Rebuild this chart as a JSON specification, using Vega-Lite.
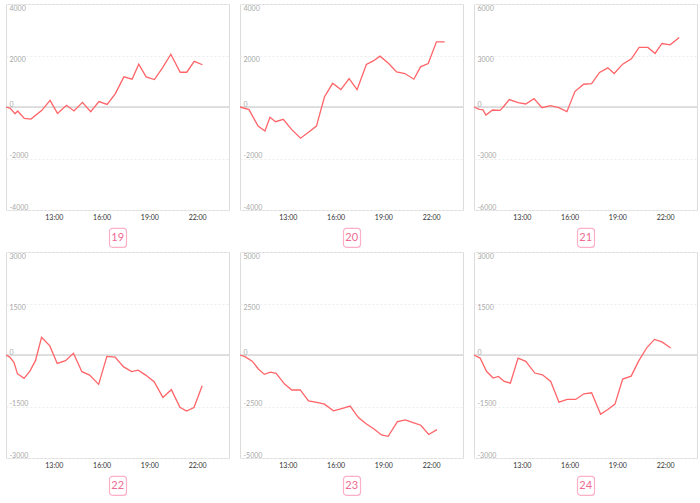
{
  "$schema": "https://vega.github.io/schema/vega-lite/v6.json",
  "padding": {"top": 3, "left": 2, "right": 0, "bottom": 0},
  "background": "white",
  "datasets": {
    "d": [
      {"p":19,"t":"2024-01-01T10:00","v":0},{"p":19,"t":"2024-01-01T10:16","v":-50},{"p":19,"t":"2024-01-01T10:34","v":-260},{"p":19,"t":"2024-01-01T10:44","v":-155},{"p":19,"t":"2024-01-01T11:09","v":-440},{"p":19,"t":"2024-01-01T11:34","v":-470},{"p":19,"t":"2024-01-01T12:15","v":-130},{"p":19,"t":"2024-01-01T12:46","v":260},{"p":19,"t":"2024-01-01T13:14","v":-250},{"p":19,"t":"2024-01-01T13:48","v":65},{"p":19,"t":"2024-01-01T14:16","v":-155},{"p":19,"t":"2024-01-01T14:48","v":180},{"p":19,"t":"2024-01-01T15:19","v":-180},{"p":19,"t":"2024-01-01T15:50","v":210},{"p":19,"t":"2024-01-01T16:21","v":100},{"p":19,"t":"2024-01-01T16:52","v":520},{"p":19,"t":"2024-01-01T17:24","v":1170},{"p":19,"t":"2024-01-01T17:55","v":1080},{"p":19,"t":"2024-01-01T18:20","v":1660},{"p":19,"t":"2024-01-01T18:48","v":1170},{"p":19,"t":"2024-01-01T19:19","v":1065},{"p":19,"t":"2024-01-01T19:50","v":1530},{"p":19,"t":"2024-01-01T20:21","v":2050},{"p":19,"t":"2024-01-01T20:56","v":1350},{"p":19,"t":"2024-01-01T21:21","v":1350},{"p":19,"t":"2024-01-01T21:49","v":1770},{"p":19,"t":"2024-01-01T22:20","v":1640},
      {"p":20,"t":"2024-01-01T10:00","v":0},{"p":20,"t":"2024-01-01T10:34","v":-100},{"p":20,"t":"2024-01-01T11:08","v":-740},{"p":20,"t":"2024-01-01T11:34","v":-935},{"p":20,"t":"2024-01-01T11:53","v":-400},{"p":20,"t":"2024-01-01T12:14","v":-570},{"p":20,"t":"2024-01-01T12:43","v":-480},{"p":20,"t":"2024-01-01T13:14","v":-870},{"p":20,"t":"2024-01-01T13:48","v":-1210},{"p":20,"t":"2024-01-01T14:19","v":-975},{"p":20,"t":"2024-01-01T14:48","v":-740},{"p":20,"t":"2024-01-01T15:18","v":390},{"p":20,"t":"2024-01-01T15:49","v":920},{"p":20,"t":"2024-01-01T16:20","v":675},{"p":20,"t":"2024-01-01T16:51","v":1100},{"p":20,"t":"2024-01-01T17:21","v":675},{"p":20,"t":"2024-01-01T17:56","v":1650},{"p":20,"t":"2024-01-01T18:22","v":1790},{"p":20,"t":"2024-01-01T18:47","v":1975},{"p":20,"t":"2024-01-01T19:19","v":1700},{"p":20,"t":"2024-01-01T19:50","v":1365},{"p":20,"t":"2024-01-01T20:21","v":1300},{"p":20,"t":"2024-01-01T20:55","v":1080},{"p":20,"t":"2024-01-01T21:20","v":1560},{"p":20,"t":"2024-01-01T21:49","v":1690},{"p":20,"t":"2024-01-01T22:20","v":2530},{"p":20,"t":"2024-01-01T22:51","v":2530},
      {"p":21,"t":"2024-01-01T10:00","v":0},{"p":21,"t":"2024-01-01T10:20","v":-135},{"p":21,"t":"2024-01-01T10:33","v":-155},{"p":21,"t":"2024-01-01T10:45","v":-470},{"p":21,"t":"2024-01-01T11:10","v":-175},{"p":21,"t":"2024-01-01T11:38","v":-195},{"p":21,"t":"2024-01-01T11:50","v":0},{"p":21,"t":"2024-01-01T12:13","v":430},{"p":21,"t":"2024-01-01T12:46","v":250},{"p":21,"t":"2024-01-01T13:15","v":175},{"p":21,"t":"2024-01-01T13:46","v":490},{"p":21,"t":"2024-01-01T14:16","v":-40},{"p":21,"t":"2024-01-01T14:48","v":80},{"p":21,"t":"2024-01-01T15:19","v":-40},{"p":21,"t":"2024-01-01T15:50","v":-270},{"p":21,"t":"2024-01-01T16:20","v":900},{"p":21,"t":"2024-01-01T16:53","v":1325},{"p":21,"t":"2024-01-01T17:23","v":1365},{"p":21,"t":"2024-01-01T17:53","v":2010},{"p":21,"t":"2024-01-01T18:24","v":2280},{"p":21,"t":"2024-01-01T18:48","v":1950},{"p":21,"t":"2024-01-01T19:20","v":2495},{"p":21,"t":"2024-01-01T19:53","v":2810},{"p":21,"t":"2024-01-01T20:22","v":3470},{"p":21,"t":"2024-01-01T20:55","v":3470},{"p":21,"t":"2024-01-01T21:22","v":3120},{"p":21,"t":"2024-01-01T21:48","v":3700},{"p":21,"t":"2024-01-01T22:19","v":3625},{"p":21,"t":"2024-01-01T22:53","v":4055},
      {"p":22,"t":"2024-01-01T10:00","v":0},{"p":22,"t":"2024-01-01T10:14","v":-60},{"p":22,"t":"2024-01-01T10:30","v":-215},{"p":22,"t":"2024-01-01T10:43","v":-545},{"p":22,"t":"2024-01-01T11:08","v":-680},{"p":22,"t":"2024-01-01T11:30","v":-470},{"p":22,"t":"2024-01-01T11:51","v":-165},{"p":22,"t":"2024-01-01T12:14","v":515},{"p":22,"t":"2024-01-01T12:45","v":265},{"p":22,"t":"2024-01-01T13:13","v":-245},{"p":22,"t":"2024-01-01T13:44","v":-165},{"p":22,"t":"2024-01-01T14:14","v":50},{"p":22,"t":"2024-01-01T14:46","v":-485},{"p":22,"t":"2024-01-01T15:15","v":-585},{"p":22,"t":"2024-01-01T15:49","v":-855},{"p":22,"t":"2024-01-01T16:20","v":-40},{"p":22,"t":"2024-01-01T16:51","v":-60},{"p":22,"t":"2024-01-01T17:22","v":-340},{"p":22,"t":"2024-01-01T17:53","v":-485},{"p":22,"t":"2024-01-01T18:18","v":-440},{"p":22,"t":"2024-01-01T18:46","v":-585},{"p":22,"t":"2024-01-01T19:18","v":-780},{"p":22,"t":"2024-01-01T19:51","v":-1235},{"p":22,"t":"2024-01-01T20:23","v":-1010},{"p":22,"t":"2024-01-01T20:55","v":-1520},{"p":22,"t":"2024-01-01T21:20","v":-1635},{"p":22,"t":"2024-01-01T21:48","v":-1530},{"p":22,"t":"2024-01-01T22:19","v":-895},
      {"p":23,"t":"2024-01-01T10:00","v":0},{"p":23,"t":"2024-01-01T10:19","v":-80},{"p":23,"t":"2024-01-01T10:47","v":-310},{"p":23,"t":"2024-01-01T11:09","v":-680},{"p":23,"t":"2024-01-01T11:32","v":-940},{"p":23,"t":"2024-01-01T11:54","v":-830},{"p":23,"t":"2024-01-01T12:16","v":-890},{"p":23,"t":"2024-01-01T12:48","v":-1410},{"p":23,"t":"2024-01-01T13:15","v":-1700},{"p":23,"t":"2024-01-01T13:47","v":-1690},{"p":23,"t":"2024-01-01T14:18","v":-2225},{"p":23,"t":"2024-01-01T14:50","v":-2300},{"p":23,"t":"2024-01-01T15:18","v":-2385},{"p":23,"t":"2024-01-01T15:52","v":-2710},{"p":23,"t":"2024-01-01T16:23","v":-2600},{"p":23,"t":"2024-01-01T16:55","v":-2480},{"p":23,"t":"2024-01-01T17:26","v":-3035},{"p":23,"t":"2024-01-01T17:54","v":-3330},{"p":23,"t":"2024-01-01T18:26","v":-3600},{"p":23,"t":"2024-01-01T18:53","v":-3880},{"p":23,"t":"2024-01-01T19:18","v":-3945},{"p":23,"t":"2024-01-01T19:53","v":-3230},{"p":23,"t":"2024-01-01T20:23","v":-3150},{"p":23,"t":"2024-01-01T20:52","v":-3280},{"p":23,"t":"2024-01-01T21:21","v":-3410},{"p":23,"t":"2024-01-01T21:51","v":-3860},{"p":23,"t":"2024-01-01T22:22","v":-3620},
      {"p":24,"t":"2024-01-01T10:00","v":0},{"p":24,"t":"2024-01-01T10:23","v":-90},{"p":24,"t":"2024-01-01T10:47","v":-475},{"p":24,"t":"2024-01-01T11:12","v":-670},{"p":24,"t":"2024-01-01T11:32","v":-625},{"p":24,"t":"2024-01-01T11:54","v":-770},{"p":24,"t":"2024-01-01T12:17","v":-820},{"p":24,"t":"2024-01-01T12:46","v":-90},{"p":24,"t":"2024-01-01T13:15","v":-185},{"p":24,"t":"2024-01-01T13:49","v":-525},{"p":24,"t":"2024-01-01T14:18","v":-575},{"p":24,"t":"2024-01-01T14:49","v":-770},{"p":24,"t":"2024-01-01T15:20","v":-1375},{"p":24,"t":"2024-01-01T15:51","v":-1295},{"p":24,"t":"2024-01-01T16:23","v":-1295},{"p":24,"t":"2024-01-01T16:54","v":-1130},{"p":24,"t":"2024-01-01T17:23","v":-1100},{"p":24,"t":"2024-01-01T17:57","v":-1725},{"p":24,"t":"2024-01-01T18:24","v":-1590},{"p":24,"t":"2024-01-01T18:51","v":-1430},{"p":24,"t":"2024-01-01T19:20","v":-700},{"p":24,"t":"2024-01-01T19:52","v":-615},{"p":24,"t":"2024-01-01T20:21","v":-165},{"p":24,"t":"2024-01-01T20:52","v":225},{"p":24,"t":"2024-01-01T21:20","v":455},{"p":24,"t":"2024-01-01T21:48","v":380},{"p":24,"t":"2024-01-01T22:21","v":205}
    ]
  },
  "spacing": 3,
  "vconcat": [
    {"spacing": 6, "center": true, "vconcat": [
      {"spacing": 11, "bounds": "flush", "hconcat": [
        {"width": 223, "height": 206, "layer": [
          {"data": {"values": [{}]}, "mark": {"type": "rule", "color": "#c2c2c2", "strokeWidth": 1}, "encoding": {"y": {"datum": 0, "type": "quantitative"}}},
          {"data": {"name": "d"}, "transform": [{"filter": "datum.p == 19"}], "mark": {"type": "line", "color": "#ff6468", "strokeWidth": 1.3},
           "encoding": {
            "x": {"field": "t", "type": "temporal", "scale": {"domain": [{"year": 2024, "month": 1, "date": 1, "hours": 10}, {"year": 2024, "month": 1, "date": 2, "hours": 0}], "nice": false},
                  "axis": {"title": null, "format": "%H:%M", "values": [{"year": 2024, "month": 1, "date": 1, "hours": 13}, {"year": 2024, "month": 1, "date": 1, "hours": 16}, {"year": 2024, "month": 1, "date": 1, "hours": 19}, {"year": 2024, "month": 1, "date": 1, "hours": 22}], "grid": false, "domain": false, "ticks": false, "tickSize": 0, "labelPadding": 3, "labelColor": "#333333", "labelFontSize": 7}},
            "y": {"field": "v", "type": "quantitative", "scale": {"domain": [-4000, 4000], "nice": false, "zero": false},
                  "axis": {"title": null, "values": [-4000, -3000, -2000, -1000, 0, 1000, 2000, 3000, 4000], "labelExpr": "datum.value % 2000 === 0 ? '' + datum.value : ''", "grid": true, "gridColor": "#ececec", "gridDash": [2, 2], "domain": false, "ticks": false, "tickSize": 0, "labelAlign": "left", "labelPadding": -3, "labelOverlap": false, "labelBaseline": {"condition": {"test": "datum.value > 0", "value": "top"}, "value": "bottom"}, "labelColor": "#a8a8a8", "labelFontSize": 7}}
           }}
        ]},
        {"width": 223, "height": 206, "layer": [
          {"data": {"values": [{}]}, "mark": {"type": "rule", "color": "#c2c2c2", "strokeWidth": 1}, "encoding": {"y": {"datum": 0, "type": "quantitative"}}},
          {"data": {"name": "d"}, "transform": [{"filter": "datum.p == 20"}], "mark": {"type": "line", "color": "#ff6468", "strokeWidth": 1.3},
           "encoding": {
            "x": {"field": "t", "type": "temporal", "scale": {"domain": [{"year": 2024, "month": 1, "date": 1, "hours": 10}, {"year": 2024, "month": 1, "date": 2, "hours": 0}], "nice": false},
                  "axis": {"title": null, "format": "%H:%M", "values": [{"year": 2024, "month": 1, "date": 1, "hours": 13}, {"year": 2024, "month": 1, "date": 1, "hours": 16}, {"year": 2024, "month": 1, "date": 1, "hours": 19}, {"year": 2024, "month": 1, "date": 1, "hours": 22}], "grid": false, "domain": false, "ticks": false, "tickSize": 0, "labelPadding": 3, "labelColor": "#333333", "labelFontSize": 7}},
            "y": {"field": "v", "type": "quantitative", "scale": {"domain": [-4000, 4000], "nice": false, "zero": false},
                  "axis": {"title": null, "values": [-4000, -3000, -2000, -1000, 0, 1000, 2000, 3000, 4000], "labelExpr": "datum.value % 2000 === 0 ? '' + datum.value : ''", "grid": true, "gridColor": "#ececec", "gridDash": [2, 2], "domain": false, "ticks": false, "tickSize": 0, "labelAlign": "left", "labelPadding": -3, "labelOverlap": false, "labelBaseline": {"condition": {"test": "datum.value > 0", "value": "top"}, "value": "bottom"}, "labelColor": "#a8a8a8", "labelFontSize": 7}}
           }}
        ]},
        {"width": 223, "height": 206, "layer": [
          {"data": {"values": [{}]}, "mark": {"type": "rule", "color": "#c2c2c2", "strokeWidth": 1}, "encoding": {"y": {"datum": 0, "type": "quantitative"}}},
          {"data": {"name": "d"}, "transform": [{"filter": "datum.p == 21"}], "mark": {"type": "line", "color": "#ff6468", "strokeWidth": 1.3},
           "encoding": {
            "x": {"field": "t", "type": "temporal", "scale": {"domain": [{"year": 2024, "month": 1, "date": 1, "hours": 10}, {"year": 2024, "month": 1, "date": 2, "hours": 0}], "nice": false},
                  "axis": {"title": null, "format": "%H:%M", "values": [{"year": 2024, "month": 1, "date": 1, "hours": 13}, {"year": 2024, "month": 1, "date": 1, "hours": 16}, {"year": 2024, "month": 1, "date": 1, "hours": 19}, {"year": 2024, "month": 1, "date": 1, "hours": 22}], "grid": false, "domain": false, "ticks": false, "tickSize": 0, "labelPadding": 3, "labelColor": "#333333", "labelFontSize": 7}},
            "y": {"field": "v", "type": "quantitative", "scale": {"domain": [-6000, 6000], "nice": false, "zero": false},
                  "axis": {"title": null, "values": [-6000, -4500, -3000, -1500, 0, 1500, 3000, 4500, 6000], "labelExpr": "datum.value % 3000 === 0 ? '' + datum.value : ''", "grid": true, "gridColor": "#ececec", "gridDash": [2, 2], "domain": false, "ticks": false, "tickSize": 0, "labelAlign": "left", "labelPadding": -3, "labelOverlap": false, "labelBaseline": {"condition": {"test": "datum.value > 0", "value": "top"}, "value": "bottom"}, "labelColor": "#a8a8a8", "labelFontSize": 7}}
           }}
        ]}
      ]},
      {"spacing": 217, "bounds": "flush", "hconcat": [
        {"width": 17, "height": 19, "view": {"stroke": "#fbb0c8", "cornerRadius": 3, "strokeWidth": 1.2}, "data": {"values": [{"label": "19"}]}, "mark": {"type": "text", "color": "#f06a93", "fontSize": 11}, "encoding": {"text": {"field": "label"}}},
        {"width": 17, "height": 19, "view": {"stroke": "#fbb0c8", "cornerRadius": 3, "strokeWidth": 1.2}, "data": {"values": [{"label": "20"}]}, "mark": {"type": "text", "color": "#f06a93", "fontSize": 11}, "encoding": {"text": {"field": "label"}}},
        {"width": 17, "height": 19, "view": {"stroke": "#fbb0c8", "cornerRadius": 3, "strokeWidth": 1.2}, "data": {"values": [{"label": "21"}]}, "mark": {"type": "text", "color": "#f06a93", "fontSize": 11}, "encoding": {"text": {"field": "label"}}}
      ]}
    ]},
    {"spacing": 6, "center": true, "vconcat": [
      {"spacing": 11, "bounds": "flush", "hconcat": [
        {"width": 223, "height": 206, "layer": [
          {"data": {"values": [{}]}, "mark": {"type": "rule", "color": "#c2c2c2", "strokeWidth": 1}, "encoding": {"y": {"datum": 0, "type": "quantitative"}}},
          {"data": {"name": "d"}, "transform": [{"filter": "datum.p == 22"}], "mark": {"type": "line", "color": "#ff6468", "strokeWidth": 1.3},
           "encoding": {
            "x": {"field": "t", "type": "temporal", "scale": {"domain": [{"year": 2024, "month": 1, "date": 1, "hours": 10}, {"year": 2024, "month": 1, "date": 2, "hours": 0}], "nice": false},
                  "axis": {"title": null, "format": "%H:%M", "values": [{"year": 2024, "month": 1, "date": 1, "hours": 13}, {"year": 2024, "month": 1, "date": 1, "hours": 16}, {"year": 2024, "month": 1, "date": 1, "hours": 19}, {"year": 2024, "month": 1, "date": 1, "hours": 22}], "grid": false, "domain": false, "ticks": false, "tickSize": 0, "labelPadding": 3, "labelColor": "#333333", "labelFontSize": 7}},
            "y": {"field": "v", "type": "quantitative", "scale": {"domain": [-3000, 3000], "nice": false, "zero": false},
                  "axis": {"title": null, "values": [-3000, -2250, -1500, -750, 0, 750, 1500, 2250, 3000], "labelExpr": "datum.value % 1500 === 0 ? '' + datum.value : ''", "grid": true, "gridColor": "#ececec", "gridDash": [2, 2], "domain": false, "ticks": false, "tickSize": 0, "labelAlign": "left", "labelPadding": -3, "labelOverlap": false, "labelBaseline": {"condition": {"test": "datum.value > 0", "value": "top"}, "value": "bottom"}, "labelColor": "#a8a8a8", "labelFontSize": 7}}
           }}
        ]},
        {"width": 223, "height": 206, "layer": [
          {"data": {"values": [{}]}, "mark": {"type": "rule", "color": "#c2c2c2", "strokeWidth": 1}, "encoding": {"y": {"datum": 0, "type": "quantitative"}}},
          {"data": {"name": "d"}, "transform": [{"filter": "datum.p == 23"}], "mark": {"type": "line", "color": "#ff6468", "strokeWidth": 1.3},
           "encoding": {
            "x": {"field": "t", "type": "temporal", "scale": {"domain": [{"year": 2024, "month": 1, "date": 1, "hours": 10}, {"year": 2024, "month": 1, "date": 2, "hours": 0}], "nice": false},
                  "axis": {"title": null, "format": "%H:%M", "values": [{"year": 2024, "month": 1, "date": 1, "hours": 13}, {"year": 2024, "month": 1, "date": 1, "hours": 16}, {"year": 2024, "month": 1, "date": 1, "hours": 19}, {"year": 2024, "month": 1, "date": 1, "hours": 22}], "grid": false, "domain": false, "ticks": false, "tickSize": 0, "labelPadding": 3, "labelColor": "#333333", "labelFontSize": 7}},
            "y": {"field": "v", "type": "quantitative", "scale": {"domain": [-5000, 5000], "nice": false, "zero": false},
                  "axis": {"title": null, "values": [-5000, -3750, -2500, -1250, 0, 1250, 2500, 3750, 5000], "labelExpr": "datum.value % 2500 === 0 ? '' + datum.value : ''", "grid": true, "gridColor": "#ececec", "gridDash": [2, 2], "domain": false, "ticks": false, "tickSize": 0, "labelAlign": "left", "labelPadding": -3, "labelOverlap": false, "labelBaseline": {"condition": {"test": "datum.value > 0", "value": "top"}, "value": "bottom"}, "labelColor": "#a8a8a8", "labelFontSize": 7}}
           }}
        ]},
        {"width": 223, "height": 206, "layer": [
          {"data": {"values": [{}]}, "mark": {"type": "rule", "color": "#c2c2c2", "strokeWidth": 1}, "encoding": {"y": {"datum": 0, "type": "quantitative"}}},
          {"data": {"name": "d"}, "transform": [{"filter": "datum.p == 24"}], "mark": {"type": "line", "color": "#ff6468", "strokeWidth": 1.3},
           "encoding": {
            "x": {"field": "t", "type": "temporal", "scale": {"domain": [{"year": 2024, "month": 1, "date": 1, "hours": 10}, {"year": 2024, "month": 1, "date": 2, "hours": 0}], "nice": false},
                  "axis": {"title": null, "format": "%H:%M", "values": [{"year": 2024, "month": 1, "date": 1, "hours": 13}, {"year": 2024, "month": 1, "date": 1, "hours": 16}, {"year": 2024, "month": 1, "date": 1, "hours": 19}, {"year": 2024, "month": 1, "date": 1, "hours": 22}], "grid": false, "domain": false, "ticks": false, "tickSize": 0, "labelPadding": 3, "labelColor": "#333333", "labelFontSize": 7}},
            "y": {"field": "v", "type": "quantitative", "scale": {"domain": [-3000, 3000], "nice": false, "zero": false},
                  "axis": {"title": null, "values": [-3000, -2250, -1500, -750, 0, 750, 1500, 2250, 3000], "labelExpr": "datum.value % 1500 === 0 ? '' + datum.value : ''", "grid": true, "gridColor": "#ececec", "gridDash": [2, 2], "domain": false, "ticks": false, "tickSize": 0, "labelAlign": "left", "labelPadding": -3, "labelOverlap": false, "labelBaseline": {"condition": {"test": "datum.value > 0", "value": "top"}, "value": "bottom"}, "labelColor": "#a8a8a8", "labelFontSize": 7}}
           }}
        ]}
      ]},
      {"spacing": 217, "bounds": "flush", "hconcat": [
        {"width": 17, "height": 19, "view": {"stroke": "#fbb0c8", "cornerRadius": 3, "strokeWidth": 1.2}, "data": {"values": [{"label": "22"}]}, "mark": {"type": "text", "color": "#f06a93", "fontSize": 11}, "encoding": {"text": {"field": "label"}}},
        {"width": 17, "height": 19, "view": {"stroke": "#fbb0c8", "cornerRadius": 3, "strokeWidth": 1.2}, "data": {"values": [{"label": "23"}]}, "mark": {"type": "text", "color": "#f06a93", "fontSize": 11}, "encoding": {"text": {"field": "label"}}},
        {"width": 17, "height": 19, "view": {"stroke": "#fbb0c8", "cornerRadius": 3, "strokeWidth": 1.2}, "data": {"values": [{"label": "24"}]}, "mark": {"type": "text", "color": "#f06a93", "fontSize": 11}, "encoding": {"text": {"field": "label"}}}
      ]}
    ]}
  ],
  "config": {
    "view": {"stroke": "#dcdcdc"},
    "font": "Lato",
    "axis": {"labelFont": "Lato"},
    "text": {"font": "Lato"}
  }
}
